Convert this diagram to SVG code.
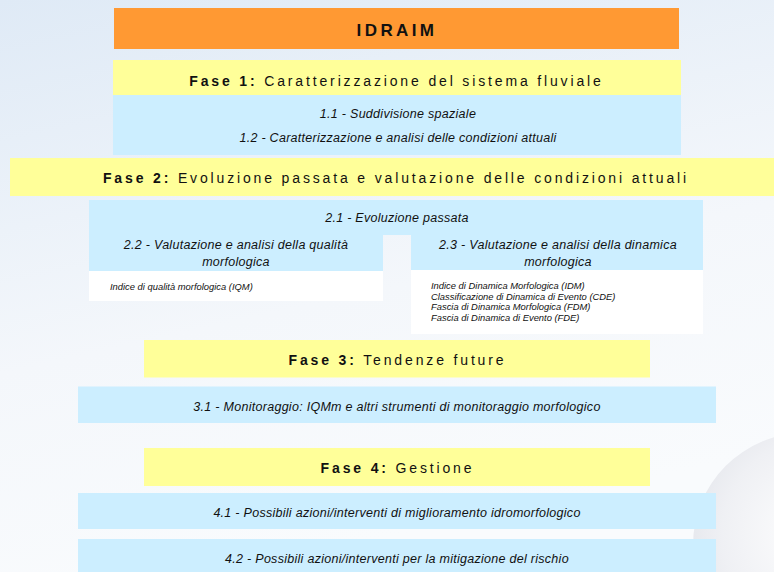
<svg xmlns="http://www.w3.org/2000/svg" width="774" height="572" viewBox="0 0 774 572">
  <defs>
    <linearGradient id="bg" x1="0" y1="0" x2="0.3" y2="1">
      <stop offset="0" stop-color="#dfeaf6"/>
      <stop offset="0.6" stop-color="#f4f7fb"/>
      <stop offset="1" stop-color="#f9fbfd"/>
    </linearGradient>
    <radialGradient id="globe" cx="0.55" cy="0.45" r="0.6">
      <stop offset="0" stop-color="#ffffff" stop-opacity="0.9"/>
      <stop offset="0.7" stop-color="#eeeff3" stop-opacity="0.9"/>
      <stop offset="1" stop-color="#e2e4ea" stop-opacity="0.9"/>
    </radialGradient>
    <style>
      .orange { fill: #ff9933; }
      .yellow { fill: #ffff99; }
      .blue { fill: #cceeff; }
      .white { fill: #ffffff; }
      text { font-family: "Liberation Sans", Arial, sans-serif; fill: #111111; }
      .title { font-size: 17px; font-weight: bold; letter-spacing: 3.4px; text-anchor: middle; }
      .fase { font-size: 14px; letter-spacing: 2.85px; text-anchor: middle; }
      .fase tspan.b { font-weight: bold; }
      .it { font-size: 12.5px; font-style: italic; letter-spacing: 0.28px; text-anchor: middle; }
      .small { font-size: 9.4px; font-style: italic; }
    </style>
  </defs>

  <rect x="0" y="0" width="774" height="572" fill="url(#bg)"/>
  <circle cx="805" cy="545" r="112" fill="url(#globe)"/>

  <g id="idraim">
    <rect class="orange" x="114" y="8" width="565" height="41"/>
    <text class="title" x="397" y="36">IDRAIM</text>
  </g>

  <g id="fase1">
    <rect class="yellow" x="113" y="60" width="568" height="35"/>
    <text class="fase" x="396.5" y="85.5"><tspan class="b">Fase 1:</tspan> Caratterizzazione del sistema fluviale</text>
  </g>

  <g id="fase1-content">
    <rect class="blue" x="113" y="95" width="568" height="60"/>
    <text class="it" x="398" y="118.3">1.1 - Suddivisione spaziale</text>
    <text class="it" x="398" y="141.7">1.2 - Caratterizzazione e analisi delle condizioni attuali</text>
  </g>

  <g id="fase2">
    <rect class="yellow" x="10" y="158" width="764" height="38"/>
    <text class="fase" x="396" y="183.3"><tspan class="b">Fase 2:</tspan> Evoluzione passata e valutazione delle condizioni attuali</text>
  </g>

  <g id="step2-1">
    <rect class="blue" x="89" y="200" width="614" height="35"/>
    <text class="it" x="397" y="221.5">2.1 - Evoluzione passata</text>
  </g>

  <g id="step2-2">
    <rect class="blue" x="89" y="235" width="294" height="36"/>
    <rect class="white" x="89" y="271" width="294" height="30"/>
    <text class="it" x="236" y="249">2.2 - Valutazione e analisi della qualità</text>
    <text class="it" x="236" y="265.5">morfologica</text>
    <text class="small" x="110" y="290.3">Indice di qualità morfologica (IQM)</text>
  </g>

  <g id="step2-3">
    <rect class="blue" x="411" y="235" width="292" height="35"/>
    <rect class="white" x="411" y="270" width="292" height="64"/>
    <text class="it" x="558" y="249">2.3 - Valutazione e analisi della dinamica</text>
    <text class="it" x="558" y="265.5">morfologica</text>
    <text class="small" x="431" y="289">Indice di Dinamica Morfologica (IDM)</text>
    <text class="small" x="431" y="299.7">Classificazione di Dinamica di Evento (CDE)</text>
    <text class="small" x="431" y="310.4">Fascia di Dinamica Morfologica (FDM)</text>
    <text class="small" x="431" y="321.1">Fascia di Dinamica di Evento (FDE)</text>
  </g>

  <g id="fase3">
    <rect class="yellow" x="144" y="340" width="506" height="37.5"/>
    <text class="fase" x="397.5" y="364.5"><tspan class="b">Fase 3:</tspan> Tendenze future</text>
  </g>

  <g id="step3-1">
    <rect class="blue" x="78" y="386.5" width="638" height="36.5"/>
    <text class="it" x="397" y="410.5">3.1 - Monitoraggio: IQMm e altri strumenti di monitoraggio morfologico</text>
  </g>

  <g id="fase4">
    <rect class="yellow" x="144" y="448" width="506" height="38"/>
    <text class="fase" x="397.5" y="472.5"><tspan class="b">Fase 4:</tspan> Gestione</text>
  </g>

  <g id="step4-1">
    <rect class="blue" x="78" y="493" width="638" height="36"/>
    <text class="it" x="397" y="517">4.1 - Possibili azioni/interventi di miglioramento idromorfologico</text>
  </g>

  <g id="step4-2">
    <rect class="blue" x="78" y="539" width="638" height="33"/>
    <text class="it" x="397" y="562.5">4.2 - Possibili azioni/interventi per la mitigazione del rischio</text>
  </g>
</svg>
